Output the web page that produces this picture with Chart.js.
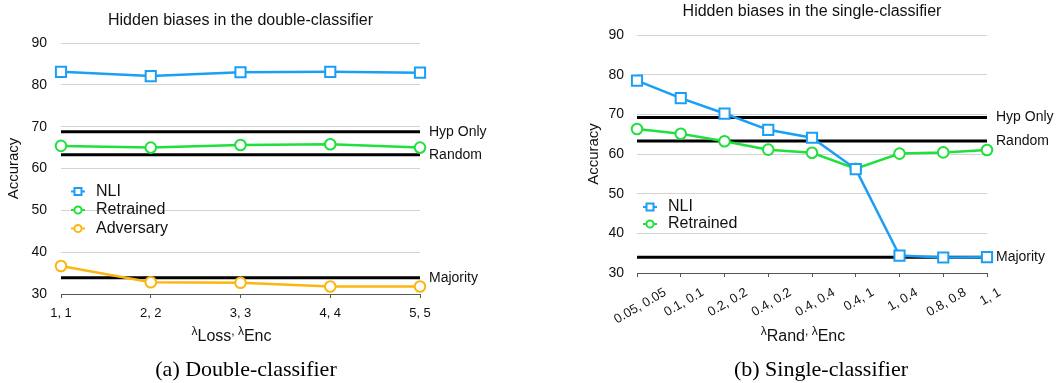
<!DOCTYPE html>
<html><head><meta charset="utf-8">
<script src="https://cdn.jsdelivr.net/npm/chart.js@4.4.1/dist/chart.umd.min.js"></script>
<style>
html,body{margin:0;padding:0;background:#fff;}
body{width:1058px;height:383px;position:relative;overflow:hidden;}
#c1{position:absolute;left:0;top:0;}
#c2{position:absolute;left:530px;top:0;}
</style></head><body>
<canvas id="c1" width="525" height="383"></canvas>
<canvas id="c2" width="528" height="383"></canvas>
<script>
// ---- data ----
const leftCategories = ['1, 1', '2, 2', '3, 3', '4, 4', '5, 5'];
const leftNLI = [83.1, 82.1, 83.0, 83.1, 82.9];
const leftRetrained = [65.4, 65.0, 65.6, 65.8, 65.0];
const leftAdversary = [36.7, 32.8, 32.7, 31.8, 31.8];
const leftRefValues = [68.8, 63.3, 33.9];

const rightCategories = ['0.05, 0.05', '0.1, 0.1', '0.2, 0.2', '0.4, 0.2', '0.4, 0.4', '0.4, 1', '1, 0.4', '0.8, 0.8', '1, 1'];
const rightNLI = [78.5, 74.1, 70.2, 66.1, 64.1, 56.2, 34.4, 33.9, 34.0];
const rightRetrained = [66.3, 65.1, 63.2, 61.1, 60.3, 56.3, 60.1, 60.4, 61.0];
const rightRefValues = [69.2, 63.3, 34.0];

const refLabels = ['Hyp Only', 'Random', 'Majority'];
const yMin = 30, yMax = 90, yStep = 10;

// ---- style ----
const FONT = '"Liberation Sans", Arial, Helvetica, sans-serif';
const SERIF = '"Liberation Serif", "Times New Roman", serif';
const BLUE = '#1a9ff5', GREEN = '#1fe03c', ORANGE = '#fbb614';
const TXT = '#111';

function ds(label, data, color, style) {
  return {
    label, data, borderColor: color, backgroundColor: '#fff', borderWidth: 2.5,
    pointStyle: style, pointRadius: style === 'rect' ? 7.2 : 5.3, pointHoverRadius: 6,
    pointBorderWidth: 2, pointBackgroundColor: '#fff', pointBorderColor: color,
    tension: 0, clip: false
  };
}

const extras = {
  id: 'extras',
  beforeDatasetsDraw(chart, args, o) {
    const { ctx, chartArea: a, scales: { y } } = chart;
    o.refValues.forEach((v, i) => {
      const py = y.getPixelForValue(v);
      ctx.save();
      ctx.strokeStyle = '#000'; ctx.lineWidth = 3;
      ctx.beginPath(); ctx.moveTo(a.left, py); ctx.lineTo(a.right, py); ctx.stroke();
      ctx.fillStyle = TXT; ctx.font = '14px ' + FONT;
      ctx.textBaseline = 'middle'; ctx.textAlign = 'left';
      ctx.fillText(refLabels[i], a.right + 9, py);
      ctx.restore();
    });
  },
  afterDraw(chart, args, o) {
    const { ctx, chartArea: a, scales: { x } } = chart;
    const cx = (a.left + a.right) / 2;
    ctx.save();
    ctx.fillStyle = TXT;
    // title
    ctx.font = '16px ' + FONT; ctx.textAlign = 'center'; ctx.textBaseline = 'alphabetic';
    ctx.fillText(o.title, cx, o.titleY);
    // rotated tick labels
    if (o.rotLabels) {
      ctx.font = '13px ' + FONT;
      const ang = Math.PI / 6;
      chart.data.labels.forEach((lab, i) => {
        const px = x.getPixelForValue(i);
        const w = ctx.measureText(lab).width;
        ctx.save();
        ctx.translate(px + w / 2 * Math.cos(ang), a.bottom + 13);
        ctx.rotate(-ang);
        ctx.textAlign = 'right'; ctx.textBaseline = 'top';
        ctx.fillText(lab, 0, 0);
        ctx.restore();
      });
    }
    // x title with lambda
    const lam = '12px ' + FONT, sub = '16px ' + FONT;
    const parts = [['λ', lam, -6], [o.subs[0], sub, 0], [',', lam, -6], [' λ', lam, -6], [o.subs[1], sub, 0]];
    let tw = 0;
    parts.forEach(p => { ctx.font = p[1]; tw += ctx.measureText(p[0]).width; });
    let xx = cx - 9 - tw / 2;
    ctx.textAlign = 'left'; ctx.textBaseline = 'alphabetic';
    parts.forEach(p => { ctx.font = p[1]; ctx.fillText(p[0], xx, o.xTitleY + p[2]); xx += ctx.measureText(p[0]).width; });
    // caption
    ctx.font = '22px ' + SERIF; ctx.textAlign = 'center'; ctx.fillStyle = '#000';
    ctx.fillText(o.caption, o.captionX, 376);
    // legend
    chart.data.datasets.forEach((d, i) => {
      const ly = o.legendY[i], lx = o.legendX;
      ctx.strokeStyle = d.borderColor; ctx.lineWidth = 2;
      ctx.beginPath(); ctx.moveTo(lx - 7, ly); ctx.lineTo(lx + 7, ly); ctx.stroke();
      ctx.fillStyle = '#fff';
      ctx.beginPath();
      if (d.pointStyle === 'rect') ctx.rect(lx - 3.5, ly - 3.5, 7, 7);
      else ctx.arc(lx, ly, 3.6, 0, Math.PI * 2);
      ctx.fill(); ctx.stroke();
      ctx.fillStyle = TXT; ctx.font = '16px ' + FONT;
      ctx.textBaseline = 'middle'; ctx.textAlign = 'left';
      ctx.fillText(d.label, lx + 18, ly);
    });
    ctx.restore();
  }
};

function makeOptions(cfg) {
  return {
    responsive: false, animation: false,
    layout: { padding: cfg.padding },
    plugins: { legend: { display: false }, tooltip: { enabled: false }, extras: cfg.extras },
    scales: {
      x: {
        ticks: { display: !cfg.extras.rotLabels, font: { family: FONT, size: 13 }, color: TXT, padding: 8, maxRotation: 0, autoSkip: false },
        grid: { display: true, drawOnChartArea: false, drawTicks: true, tickLength: 4, color: '#555', lineWidth: 1 },
        border: { display: true, color: '#555', width: 1 },
        afterFit: s => { s.height = cfg.xHeight; }
      },
      y: {
        min: yMin, max: yMax,
        ticks: { stepSize: yStep, font: { family: FONT, size: 14 }, color: TXT, padding: cfg.yPad },
        grid: { color: '#d3d3d3', lineWidth: 1, drawTicks: false },
        border: { display: false },
        title: { display: true, text: 'Accuracy', font: { family: FONT, size: 15 }, color: TXT, padding: { top: 5, bottom: 4 } },
        afterFit: s => { s.width = cfg.yWidth; }
      }
    }
  };
}

new Chart(document.getElementById('c1'), {
  type: 'line',
  data: {
    labels: leftCategories,
    datasets: [ds('NLI', leftNLI, BLUE, 'rect'), ds('Retrained', leftRetrained, GREEN, 'circle'), ds('Adversary', leftAdversary, ORANGE, 'circle')]
  },
  options: makeOptions({
    padding: { top: 43, right: 105, bottom: 29, left: 0 }, xHeight: 60, yWidth: 61, yPad: 14,
    extras: { refValues: leftRefValues, title: 'Hidden biases in the double-classifier', titleY: 25, subs: ['Loss', 'Enc'], xTitleY: 341, caption: '(a) Double-classifier', captionX: 246, legendX: 78, legendY: [191.5, 210, 228.5], rotLabels: false }
  }),
  plugins: [extras]
});

new Chart(document.getElementById('c2'), {
  type: 'line',
  data: {
    labels: rightCategories,
    datasets: [ds('NLI', rightNLI, BLUE, 'rect'), ds('Retrained', rightRetrained, GREEN, 'circle')]
  },
  options: makeOptions({
    padding: { top: 35, right: 71, bottom: 40, left: 50 }, xHeight: 70, yWidth: 57, yPad: 13,
    extras: { refValues: rightRefValues, title: 'Hidden biases in the single-classifier', titleY: 16, subs: ['Rand', 'Enc'], xTitleY: 341, caption: '(b) Single-classifier', captionX: 291, legendX: 120, legendY: [207, 224], rotLabels: true }
  }),
  plugins: [extras]
});
</script>
</body></html>
